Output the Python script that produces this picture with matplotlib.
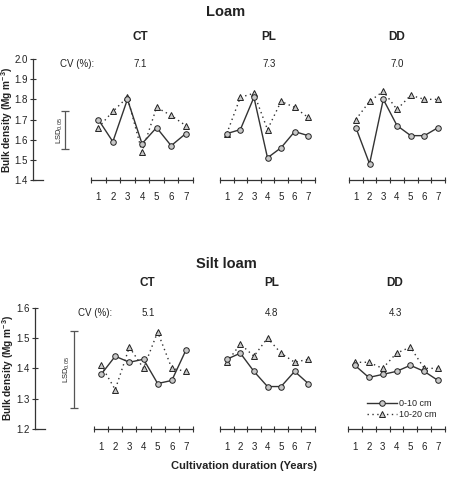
import numpy as np
import matplotlib
matplotlib.use('Agg')
import matplotlib.pyplot as plt

plt.rcParams['font.family'] = ['Liberation Sans', 'DejaVu Sans']
plt.rcParams['mathtext.fontset'] = 'custom'
plt.rcParams['mathtext.rm'] = 'Liberation Sans'
plt.rcParams['mathtext.it'] = 'Liberation Sans'
plt.rcParams['mathtext.bf'] = 'Liberation Sans:bold'

years = [1, 2, 3, 4, 5, 6, 7]
systems = ['CT', 'PL', 'DD']

# Loam
loam_0_10 = {
    'CT': [1.70, 1.59, 1.80, 1.58, 1.66, 1.57, 1.63],
    'PL': [1.63, 1.65, 1.81, 1.51, 1.56, 1.64, 1.62],
    'DD': [1.66, 1.48, 1.80, 1.67, 1.62, 1.62, 1.66],
}
loam_10_20 = {
    'CT': [1.66, 1.74, 1.81, 1.54, 1.76, 1.72, 1.67],
    'PL': [1.63, 1.81, 1.83, 1.65, 1.79, 1.76, 1.71],
    'DD': [1.70, 1.79, 1.84, 1.75, 1.82, 1.80, 1.80],
}
loam_cv = ['7.1', '7.3', '7.0']
loam_lsd = (1.554, 1.742)

# Silt loam
silt_0_10 = {
    'CT': [1.38, 1.44, 1.42, 1.43, 1.35, 1.36, 1.46],
    'PL': [1.43, 1.45, 1.39, 1.34, 1.34, 1.39, 1.35],
    'DD': [1.41, 1.37, 1.38, 1.39, 1.41, 1.39, 1.36],
}
silt_10_20 = {
    'CT': [1.41, 1.33, 1.47, 1.40, 1.52, 1.40, 1.39],
    'PL': [1.42, 1.48, 1.44, 1.50, 1.45, 1.42, 1.43],
    'DD': [1.42, 1.42, 1.40, 1.45, 1.47, 1.40, 1.40],
}
silt_cv = ['5.1', '4.8', '4.3']
silt_lsd = (1.268, 1.524)

W, H = 454, 478
fig = plt.figure(figsize=(W / 100, H / 100), dpi=100)
dark = '#333333'
txt = '#222222'


def px_axes(x0, x1, ytop, ybot):
    return fig.add_axes([x0 / W, 1 - ybot / H, (x1 - x0) / W, (ybot - ytop) / H])


def draw_row(title, title_y, d1, d2, cv, lsd, ylim, yticks, ytop, ybot,
             yaxis_x, panels_x, sub_y, cv_label_x, lsd_x, lsd_lab_x, ylab_x,
             cv_dx, legend=False):
    fig.text(226 / W, 1 - title_y / H, title, ha='center', va='center',
             fontsize=10.5, fontweight='bold', color=txt)

    # y axis
    yax = px_axes(yaxis_x, yaxis_x + 10, ytop, ybot)
    yax.set_ylim(*ylim)
    yax.set_xlim(0, 1)
    yax.set_yticks(yticks)
    yax.set_yticklabels(['%.1f' % t for t in yticks], fontsize=7, color=txt)
    yax.tick_params(axis='y', direction='inout', length=4, width=0.8, colors=dark,
                    labelcolor=txt, pad=2)
    yax.set_xticks([])
    yax.spines[['top', 'right']].set_visible(False)
    for s in ['left', 'bottom']:
        yax.spines[s].set_color(dark)
        yax.spines[s].set_linewidth(0.9)
    yax.patch.set_visible(False)
    fig.text(ylab_x / W, 1 - (ytop + ybot) / 2 / H,
             r'Bulk density (Mg m$^{\mathbf{-3}}$)', rotation=90, ha='center',
             va='center', fontsize=7.3, fontweight='bold', color=txt)

    # LSD bar
    lax = px_axes(lsd_x - 5, lsd_x + 5, ytop, ybot)
    lax.set_ylim(*ylim)
    lax.set_xlim(0, 1)
    lax.axis('off')
    lax.errorbar([0.5], [(lsd[0] + lsd[1]) / 2], yerr=[(lsd[1] - lsd[0]) / 2],
                 fmt='none', ecolor='#555555', elinewidth=0.9, capsize=3, capthick=0.9)
    lax.text((lsd_lab_x - lsd_x + 5) / 10, (lsd[0] + lsd[1]) / 2, 'LSD$_{0.05}$',
             rotation=90, ha='center', va='center', fontsize=5.5, color=txt)

    cv_y = ylim[1] - 0.04 * (ylim[1] - ylim[0])
    fig.text(cv_label_x / W, 1 - (ytop + 0.04 * (ybot - ytop)) / H, 'CV (%):',
             ha='center', va='center', fontsize=7, color=txt)

    for i, sys in enumerate(systems):
        x0, x1 = panels_x[i]
        ax = px_axes(x0, x1, ytop, ybot)
        ax.set_xlim(0.5, 7.5)
        ax.set_ylim(*ylim)
        ax.patch.set_visible(False)
        for s in ['top', 'right', 'left']:
            ax.spines[s].set_visible(False)
        ax.spines['bottom'].set_color(dark)
        ax.spines['bottom'].set_linewidth(0.9)
        ax.set_yticks([])
        ax.set_xticks(years)
        ax.set_xticklabels([str(y) for y in years], fontsize=7, color=txt)
        ax.set_xticks(np.arange(0.5, 8, 1), minor=True)
        ax.tick_params(axis='x', which='major', length=0, pad=9)
        ax.tick_params(axis='x', which='minor', direction='inout', length=5,
                       width=0.8, colors=dark)

        l1, = ax.plot(years, d1[sys], color=dark, lw=1.0, marker='o', ms=4,
                      mfc='#c8c8c8', mec='#222222', mew=0.7, label='0-10 cm',
                      clip_on=False, zorder=3)
        l2, = ax.plot(years, d2[sys], color=dark, lw=1.0, ls=(0, (1, 2.5)),
                      marker='^', ms=4.2, mfc='#c8c8c8', mec='#222222', mew=0.7,
                      label='10-20 cm', clip_on=False, zorder=2)

        ax.text(4 + cv_dx[i], cv_y, cv[i], ha='center', va='center', fontsize=7,
                color=txt)
        sub_dy = (ylim[1] - ylim[0]) * (ytop - sub_y) / (ybot - ytop)
        ax.text(4 + cv_dx[i], ylim[1] + sub_dy, sys, ha='center', va='center',
                fontsize=8.5, fontweight='bold', color=txt)

        if legend and i == 2:
            ax.legend(handles=[l1, l2], loc='upper left', frameon=False,
                      bbox_to_anchor=(367 / W, 1 - 399 / H),
                      bbox_transform=fig.transFigure, fontsize=6.5,
                      handlelength=3.3, handletextpad=0.2, labelspacing=0.25,
                      borderpad=0, borderaxespad=0, labelcolor=txt)


draw_row('Loam', 12, loam_0_10, loam_10_20, loam_cv, loam_lsd, (1.4, 2.0),
         [1.4, 1.5, 1.6, 1.7, 1.8, 1.9, 2.0], 59, 180, 33,
         [(91, 193), (220, 315), (349, 445)], 37, 77, 65, 60, 7,
         [-0.1, 0.1, 0.0])

draw_row('Silt loam', 264, silt_0_10, silt_10_20, silt_cv, silt_lsd, (1.2, 1.6),
         [1.2, 1.3, 1.4, 1.5, 1.6], 307.7, 429, 35,
         [(94, 193), (220, 315), (348, 445)], 283, 95, 74, 67, 8,
         [0.3, 0.3, -0.1], legend=True)

fig.text(244 / W, 1 - 466 / H, 'Cultivation duration (Years)', ha='center',
         va='center', fontsize=8, fontweight='bold', color=txt)

fig.savefig('out.png', dpi=100)
